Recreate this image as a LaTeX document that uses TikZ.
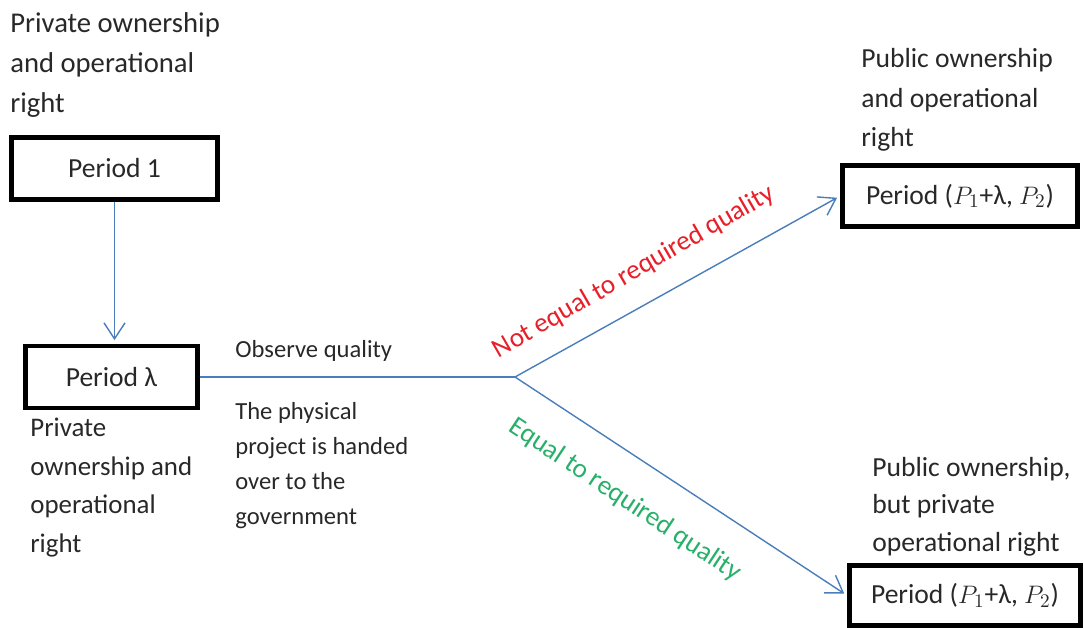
\documentclass[tikz,border=0pt]{standalone}
\usepackage{fontspec}
\setmainfont{Carlito}
\usepackage{tikz}
\usetikzlibrary{
	arrows.meta,
	positioning
}
\definecolor{LineBlue}{RGB}{74,126,187}
\definecolor{NotRed}{RGB}{232,30,40}
\definecolor{EqGreen}{RGB}{40,175,105}
\definecolor{TextGray}{RGB}{40,40,40}

\tikzset{
	periodbox/.style={draw, line width=2.7pt, inner sep=0pt, font=\fontsize{15.7}{19}\selectfont, text=TextGray},
	lbl/.style={align=left, anchor=north west, inner sep=0pt, text=TextGray},
	link/.style={LineBlue, line width=0.8pt},
	tip/.style={-{Straight Barb[length=3.2mm, width=4.2mm]}, shorten >=2pt},
	branchlbl/.style={inner sep=0pt, font=\fontsize{15.5}{19}\selectfont}
}

\begin{document}
\begin{tikzpicture}[x=0.02cm, y=-0.02cm]
		\useasboundingbox (0,0) rectangle (1084,628);
		
		% 方框
		\node[periodbox, minimum width=4.12cm, minimum height=1.24cm] (p1) at (114.5,168.5) {Period 1};
		\node[periodbox, minimum width=3.44cm, minimum height=1.24cm] (plam) at (111.5,377) {Period λ};
		\node[periodbox, minimum width=4.7cm, minimum height=1.22cm] (pub) at (960,196) {Period ($P_1$+λ, $P_2$)};
		\node[periodbox, minimum width=4.62cm, minimum height=1.2cm] (priv) at (965,595.5) {Period ($P_1$+λ, $P_2$)};
		
		% 分支点
		\coordinate (branch) at (515,377);
		
		% 连线
		\draw[link, tip] (p1.south) -- (p1.south |- plam.north);
		\draw[link] (plam.east) -- (branch);
		\draw[link, tip] (branch) -- (pub.west);
		\draw[link, tip] (branch) -- (priv.west);
		
		% 说明文字
		\node[lbl, font=\fontsize{16.3}{22.7}\selectfont] (own1) at (10,12.5) {Private ownership\\and operational\\right};
		\node[lbl, font=\fontsize{15.3}{22}\selectfont] (own2) at (30,417.5) {Private\\ownership and\\operational\\right};
		\node[lbl, font=\fontsize{14}{19.9}\selectfont] (obs) at (235,340) {Observe quality};
		\node[lbl, font=\fontsize{14}{19.9}\selectfont] (hand) at (235,402) {The physical\\project is handed\\over to the\\government};
		\node[lbl, font=\fontsize{15.7}{22.5}\selectfont] (own3) at (861,48) {Public ownership\\and operational\\right};
		\node[lbl, font=\fontsize{15.7}{21.3}\selectfont] (own4) at (872,457) {Public ownership,\\but private\\operational right};
		
		% 分支标签
		\node[branchlbl, NotRed, rotate=30] (noteq) at (634,272) {Not equal to required quality};
		\node[branchlbl, EqGreen, rotate=-33.5] (eq) at (625,500) {Equal to required quality};
	\end{tikzpicture}
\end{document}
